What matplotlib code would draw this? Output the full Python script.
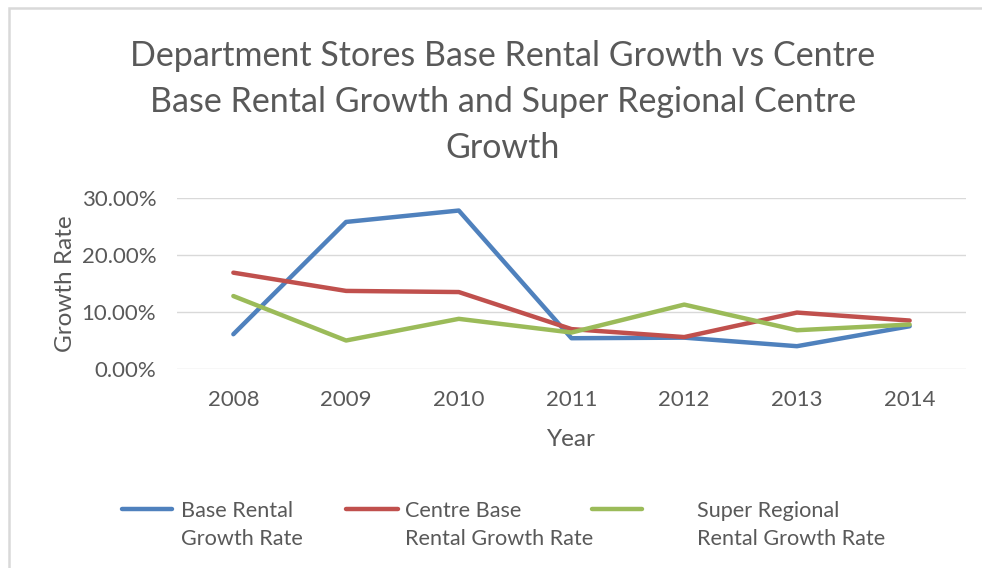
import matplotlib
matplotlib.use("Agg")
import matplotlib.pyplot as plt
from matplotlib.lines import Line2D
from matplotlib.patches import Rectangle
from matplotlib.ticker import FuncFormatter

years = ["2008", "2009", "2010", "2011", "2012", "2013", "2014"]
base_rental = [6.1, 25.8, 27.8, 5.4, 5.5, 4.0, 7.5]
centre_base = [16.9, 13.7, 13.5, 7.0, 5.6, 9.9, 8.5]
super_regional = [12.8, 5.0, 8.8, 6.4, 11.3, 6.8, 7.8]

series_labels = ["Base Rental\nGrowth Rate", "Centre Base\nRental Growth Rate",
                 "Super Regional\nRental Growth Rate"]
colors = ["#4F81BD", "#C0504D", "#9BBB59"]
title = "Department Stores Base Rental Growth vs Centre\nBase Rental Growth and Super Regional Centre\nGrowth"

FONT = "Lato"
TXT = "#595959"
plt.rcParams['font.family'] = [FONT, 'DejaVu Sans']

W, H = 982, 568
fig = plt.figure(figsize=(W / 100, H / 100), dpi=100)

def fx(px):
    return px / W

def fy(py):
    return 1 - py / H

# border
fig.add_artist(Rectangle((fx(9), fy(H + 20)), fx(W + 20), fy(8) - fy(H + 20),
                         transform=fig.transFigure, fill=False,
                         edgecolor="#D9D9D9", linewidth=1.8))

ax = fig.add_axes([fx(177), fy(369), fx(966) - fx(177), fy(198) - fy(369)])
x = list(range(len(years)))
for vals, c in zip([base_rental, centre_base, super_regional], colors):
    ax.plot(x, [v / 100 for v in vals], color=c, linewidth=3.2,
            solid_capstyle="round", solid_joinstyle="round")

ax.set_xlim(-0.5, len(years) - 0.5)
ax.set_ylim(0, 0.30)
ax.set_yticks([0, 0.10, 0.20, 0.30])
ax.yaxis.set_major_formatter(FuncFormatter(lambda v, p: f"{v*100:.2f}%"))
ax.set_xticks(x)
ax.set_xticklabels(years)
ax.grid(axis="y", color="#D9D9D9", linewidth=1.0)
ax.set_axisbelow(True)
for s in ax.spines.values():
    s.set_visible(False)
ax.tick_params(length=0, labelsize=16, labelcolor=TXT)
ax.tick_params(axis="y", pad=15)
ax.tick_params(axis="x", pad=15)
ax.set_xlabel("Year", fontsize=17.5, color=TXT, labelpad=14)
ax.set_ylabel("Growth Rate", fontsize=17.5, color=TXT, labelpad=4)

fig.text(fx(503), fy(102), title, ha="center", va="center", fontsize=24.5,
         color=TXT, linespacing=1.53)

# legend
handle_x = [(122, 172), (346, 398), (592, 642)]
text_x = [181, 405, 697]
for (x0, x1), tx, c, lab in zip(handle_x, text_x, colors, series_labels):
    fig.add_artist(Line2D([fx(x0), fx(x1)], [fy(509), fy(509)],
                          transform=fig.transFigure, color=c, linewidth=3.2,
                          solid_capstyle="round"))
    fig.text(fx(tx), fy(525), lab, ha="left", va="center", fontsize=15.6,
             color=TXT, linespacing=1.5)

fig.savefig("out.png", dpi=100)
